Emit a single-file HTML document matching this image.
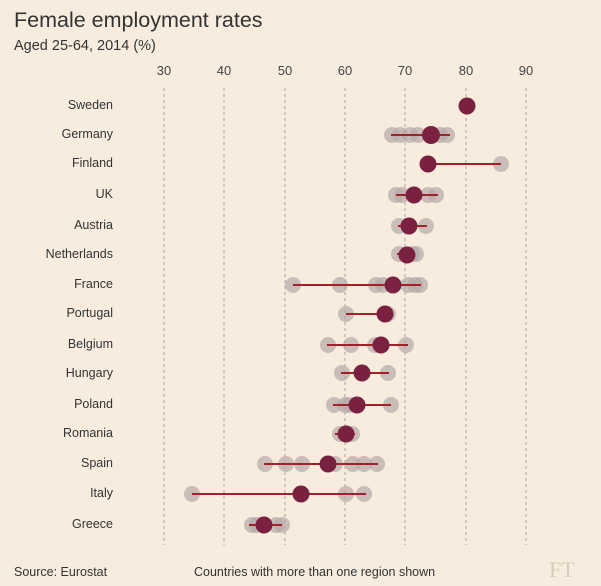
<!DOCTYPE html>
<html><head><meta charset="utf-8"><style>
body{margin:0;background:#f7ecdd;}
svg{display:block;font-family:"Liberation Sans",sans-serif;}
</style></head><body>
<svg width="601" height="586" viewBox="0 0 601 586">
<rect width="601" height="586" fill="#f7ecdd"/>
<text x="14" y="27" font-size="21.5" fill="#333">Female employment rates</text>
<text x="14" y="50" font-size="14.5" fill="#333">Aged 25-64, 2014 (%)</text>
<g font-size="13" fill="#444" text-anchor="middle">
<text x="164" y="75">30</text><text x="224" y="75">40</text><text x="285" y="75">50</text><text x="345" y="75">60</text><text x="405" y="75">70</text><text x="466" y="75">80</text><text x="526" y="75">90</text>
</g>
<g stroke="#a8a39e" stroke-width="1" stroke-dasharray="3,3">
<line x1="164" y1="88" x2="164" y2="545"/><line x1="224" y1="88" x2="224" y2="545"/><line x1="285" y1="88" x2="285" y2="545"/><line x1="345" y1="88" x2="345" y2="545"/><line x1="405" y1="88" x2="405" y2="545"/><line x1="466" y1="88" x2="466" y2="545"/><line x1="526" y1="88" x2="526" y2="545"/>
</g>
<g font-size="12.5" fill="#333" text-anchor="end">
<text x="113" y="109">Sweden</text><text x="113" y="138">Germany</text><text x="113" y="167">Finland</text><text x="113" y="198">UK</text><text x="113" y="229">Austria</text><text x="113" y="258">Netherlands</text><text x="113" y="288">France</text><text x="113" y="317">Portugal</text><text x="113" y="348">Belgium</text><text x="113" y="377">Hungary</text><text x="113" y="408">Poland</text><text x="113" y="437">Romania</text><text x="113" y="467">Spain</text><text x="113" y="497">Italy</text><text x="113" y="528">Greece</text>
</g>
<g fill="#b7a8a7" fill-opacity="0.7">
<circle cx="392" cy="135" r="8"/><circle cx="400" cy="135" r="8"/><circle cx="410" cy="135" r="8"/><circle cx="418" cy="135" r="8"/><circle cx="440" cy="135" r="8"/><circle cx="447" cy="135" r="8"/>
<circle cx="501" cy="164" r="8"/>
<circle cx="396" cy="195" r="8"/><circle cx="402" cy="195" r="8"/><circle cx="428" cy="195" r="8"/><circle cx="436" cy="195" r="8"/>
<circle cx="399" cy="226" r="8"/><circle cx="426" cy="226" r="8"/>
<circle cx="399" cy="254" r="8"/><circle cx="412" cy="254" r="8"/><circle cx="416" cy="254" r="8"/>
<circle cx="293" cy="285" r="8"/><circle cx="340" cy="285" r="8"/><circle cx="376" cy="285" r="8"/><circle cx="383" cy="285" r="8"/><circle cx="408" cy="285" r="8"/><circle cx="415" cy="285" r="8"/><circle cx="420" cy="285" r="8"/>
<circle cx="346" cy="314" r="8"/><circle cx="388" cy="314" r="8"/>
<circle cx="328" cy="345" r="8"/><circle cx="351" cy="345" r="8"/><circle cx="375" cy="345" r="8"/><circle cx="406" cy="345" r="8"/>
<circle cx="342" cy="373" r="8"/><circle cx="388" cy="373" r="8"/>
<circle cx="334" cy="405" r="8"/><circle cx="345" cy="405" r="8"/><circle cx="349" cy="405" r="8"/><circle cx="391" cy="405" r="8"/>
<circle cx="340" cy="434" r="8"/><circle cx="352" cy="434" r="8"/>
<circle cx="265" cy="464" r="8"/><circle cx="286" cy="464" r="8"/><circle cx="302" cy="464" r="8"/><circle cx="335" cy="464" r="8"/><circle cx="353" cy="464" r="8"/><circle cx="364" cy="464" r="8"/><circle cx="377" cy="464" r="8"/>
<circle cx="192" cy="494" r="8"/><circle cx="346" cy="494" r="8"/><circle cx="364" cy="494" r="8"/>
<circle cx="252" cy="525" r="8"/><circle cx="257" cy="525" r="8"/><circle cx="276" cy="525" r="8"/><circle cx="282" cy="525" r="8"/>
</g>
<g stroke="#a3212a" stroke-width="2">
<line x1="391" y1="135" x2="450" y2="135"/><line x1="428" y1="164" x2="501" y2="164"/><line x1="396" y1="195" x2="438" y2="195"/><line x1="398" y1="226" x2="427" y2="226"/><line x1="397" y1="254" x2="415" y2="254"/><line x1="293" y1="285" x2="421" y2="285"/><line x1="346" y1="314" x2="386" y2="314"/><line x1="327" y1="345" x2="408" y2="345"/><line x1="341" y1="373" x2="389" y2="373"/><line x1="333" y1="405" x2="391" y2="405"/><line x1="335" y1="434" x2="355" y2="434"/><line x1="264" y1="464" x2="378" y2="464"/><line x1="192" y1="494" x2="366" y2="494"/><line x1="249" y1="525" x2="282" y2="525"/>
</g>
<g fill="#7a2040">
<circle cx="467" cy="106" r="8.5"/><circle cx="431" cy="135" r="9"/><circle cx="428" cy="164" r="8.5"/><circle cx="414" cy="195" r="8.5"/><circle cx="409" cy="226" r="8.5"/><circle cx="407" cy="255" r="8.5"/><circle cx="393" cy="285" r="8.5"/><circle cx="385" cy="314" r="8.5"/><circle cx="381" cy="345" r="8.5"/><circle cx="362" cy="373" r="8.5"/><circle cx="357" cy="405" r="8.5"/><circle cx="346" cy="434" r="8.5"/><circle cx="328" cy="464" r="8.5"/><circle cx="301" cy="494" r="8.5"/><circle cx="264" cy="525" r="8.5"/>
</g>
<text x="14" y="576" font-size="12.5" fill="#333">Source: Eurostat</text>
<text x="194" y="576" font-size="12.5" fill="#333">Countries with more than one region shown</text>
<text x="549" y="577" font-size="22" fill="#d9cbb9" font-family="Liberation Serif,serif">FT</text>
</svg>
</body></html>
